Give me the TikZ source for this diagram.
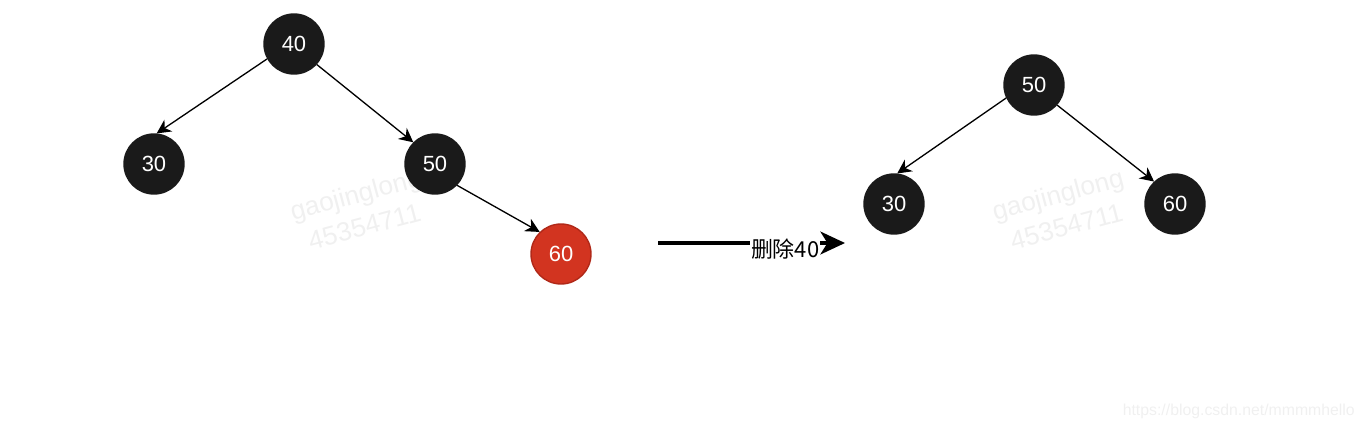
\documentclass[tikz,border=0pt]{standalone}
\usepackage{fontspec}
\setmainfont{Liberation Sans}
\newfontfamily\cjk{Noto Sans CJK SC}
\usetikzlibrary{arrows.meta, positioning}
\definecolor{NodeBlack}{RGB}{26, 26, 26}
\definecolor{NodeRed}{RGB}{210, 52, 32}
\definecolor{NodeRedDark}{RGB}{176, 40, 24}
\definecolor{MarkGray}{RGB}{240, 240, 240}
\tikzset{
  rbnode/.style={circle, draw=#1, fill=#1, line width=0.8pt,
                 minimum size=1.2cm, inner sep=0pt,
                 font=\fontsize{12.5}{15}\selectfont, text=white},
  rednode/.style={rbnode=NodeRed, draw=NodeRedDark},
  arr/.style={-{Stealth[length=8pt, width=8pt, inset=2.5pt]}, line width=0.75pt, color=black},
  bigarr/.style={-{Stealth[length=14pt, width=13pt, inset=4pt]}, line width=1.8pt, color=black},
  wmark/.style={font=\fontsize{15}{19}\selectfont, text=MarkGray, align=center, rotate=15},
}

\begin{document}
\begin{tikzpicture}[x=0.02cm, y=-0.02cm]
  \useasboundingbox (0,0) rectangle (1370,430);
  % watermarks
  \node[wmark] (wm1) at (360,210) {gaojinglong\\45354711};
  \node[wmark] (wm2) at (1062,210) {gaojinglong\\45354711};
  \node[font=\fontsize{9}{11}\selectfont, text=MarkGray, anchor=east] (url) at (1361,411) {https://blog.csdn.net/mmmmhello};
  % before
  \node[rbnode=NodeBlack] (a40) at (294,44) {40};
  \node[rbnode=NodeBlack] (a30) at (154,164) {30};
  \node[rbnode=NodeBlack] (a50) at (435,164) {50};
  \node[rednode] (a60) at (561,254) {60};
  \draw[arr] (a40.209) -- (a30.85);
  \draw[arr] (a40.318) -- (a50.135);
  \draw[arr] (a50.316) -- (a60.134);
  % step
  \coordinate (s) at (658,243);
  \coordinate (t) at (845,243);
  \draw[bigarr] (s) -- (t)
    node[pos=0.68, yshift=-0.12cm, fill=white, inner sep=0.5pt,
         font=\fontsize{12.5}{15}\selectfont] (lbl) {\cjk 删除40};
  % after
  \node[rbnode=NodeBlack] (b50) at (1034,85) {50};
  \node[rbnode=NodeBlack] (b30) at (894,204) {30};
  \node[rbnode=NodeBlack] (b60) at (1175,204) {60};
  \draw[arr] (b50.205) -- (b30.84);
  \draw[arr] (b50.319) -- (b60.133);
\end{tikzpicture}
\end{document}
